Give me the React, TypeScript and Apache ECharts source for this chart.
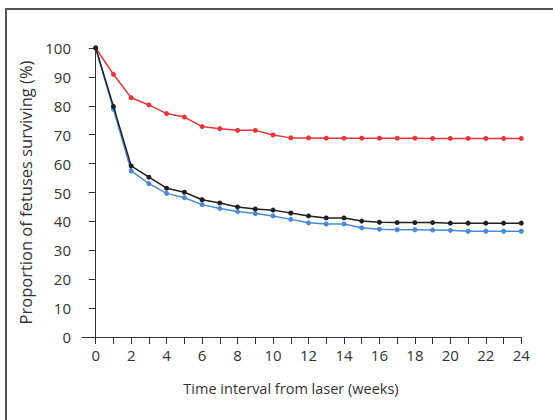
import React, { useEffect, useRef } from "react";
import * as echarts from "echarts";

const weeks = [0, 1, 2, 3, 4, 5, 6, 7, 8, 9, 10, 11, 12, 13, 14, 15, 16, 17, 18, 19, 20, 21, 22, 23, 24];
const redValues = [100, 90.9, 82.8, 80.3, 77.3, 76.1, 72.8, 72.1, 71.5, 71.5, 69.9, 68.9, 68.9, 68.8, 68.8, 68.8, 68.8, 68.8, 68.8, 68.7, 68.7, 68.7, 68.7, 68.7, 68.7];
const blackValues = [100, 79.8, 59.2, 55.3, 51.5, 50.1, 47.5, 46.4, 45.0, 44.3, 43.9, 42.9, 41.9, 41.2, 41.2, 40.1, 39.7, 39.6, 39.6, 39.6, 39.4, 39.4, 39.4, 39.4, 39.4];
const blueValues = [100, 78.8, 57.5, 53.1, 49.7, 48.2, 45.8, 44.5, 43.4, 42.7, 41.9, 40.7, 39.5, 39.1, 39.1, 37.8, 37.3, 37.1, 37.1, 37.0, 36.9, 36.6, 36.6, 36.6, 36.6];
const xTickValues = weeks;
const xLabelValues = [0, 2, 4, 6, 8, 10, 12, 14, 16, 18, 20, 22, 24];

const FONT = "Open Sans";

export default function App() {
  const ref = useRef<HTMLDivElement>(null);
  useEffect(() => {
    if (!ref.current) return;
    const chart = echarts.init(ref.current, null, { renderer: "svg" });
    const mk = (vals: number[], color: string, z: number) => ({
      type: "line",
      data: weeks.map((w, i) => [w, vals[i]]),
      symbol: "circle",
      symbolSize: 5,
      z,
      lineStyle: { color, width: 1.5 },
      itemStyle: { color },
    });
    chart.setOption({
      animation: false,
      backgroundColor: "#ffffff",
      grid: { left: 82, right: 31.7, top: 48, bottom: 83, containLabel: false },
      xAxis: {
        type: "value",
        min: -0.773,
        max: 24,
        splitLine: { show: false },
        axisLine: { show: true, lineStyle: { color: "#333", width: 1 } },
        axisTick: {
          show: true,
          customValues: xTickValues,
          length: 7,
          inside: false,
          lineStyle: { color: "#333", width: 1 },
        },
        axisLabel: {
          customValues: xLabelValues,
          color: "#333",
          fontFamily: FONT,
          fontSize: 15,
          margin: 10,
        },
      },
      yAxis: {
        type: "value",
        min: 0,
        max: 100,
        interval: 10,
        splitLine: { show: false },
        axisLine: { show: true, lineStyle: { color: "#333", width: 1 } },
        axisTick: { show: true, length: 7, lineStyle: { color: "#333", width: 1 } },
        axisLabel: { color: "#333", fontFamily: FONT, fontSize: 15, margin: 11 },
        name: "Proportion of fetuses surviving (%)",
        nameLocation: "middle",
        nameGap: 46,
        nameRotate: 90,
        nameTextStyle: { color: "#333", fontFamily: FONT, fontSize: 16.5 },
      },
      graphic: [
        {
          type: "rect",
          shape: { x: 6, y: 9, width: 700, height: 600 },
          style: { fill: "none", stroke: "#555", lineWidth: 2 },
          silent: true,
        },
        {
          type: "text",
          x: 291,
          y: 388,
          style: {
            text: "Time interval from laser (weeks)",
            fill: "#333",
            font: `14.5px "${FONT}"`,
            textAlign: "center",
            textVerticalAlign: "middle",
          },
        },
      ],
      series: [
        mk(blueValues, "#4a8ad4", 2),
        mk(redValues, "#e8343a", 3),
        mk(blackValues, "#231f20", 4),
      ],
    });
    return () => chart.dispose();
  }, []);
  return (
    <div
      ref={ref}
      style={{ position: "absolute", left: 0, top: 0, width: 553, height: 420 }}
    />
  );
}
